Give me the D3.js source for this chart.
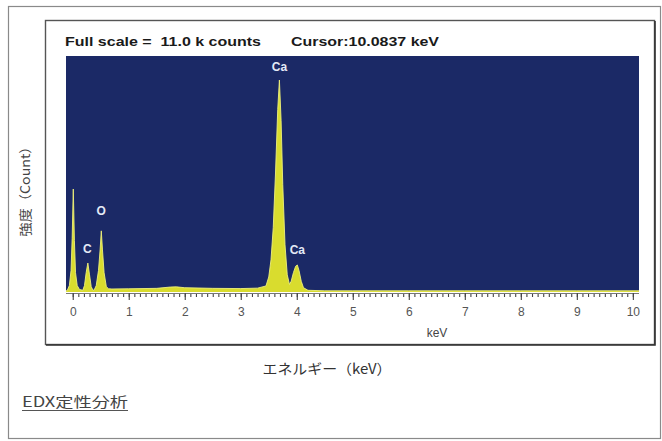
<!DOCTYPE html>
<html><head><meta charset="utf-8">
<script src="https://cdn.jsdelivr.net/npm/d3@7"></script>
<style>
html,body{margin:0;padding:0;background:#fff;}
svg{display:block;}
</style></head>
<body>
<svg id="c" width="662" height="441"></svg>
<script>
// ---- data ----
const spectrumKeV = [-0.12,-0.10,-0.06,-0.03,-0.01,0.01,0.03,0.05,0.08,0.12,0.18,0.21,0.24,0.27,0.30,0.33,0.36,0.38,0.42,0.46,0.49,0.51,0.53,0.56,0.60,0.64,0.70,1.00,1.50,1.74,1.85,2.00,2.50,3.00,3.30,3.45,3.50,3.54,3.58,3.62,3.66,3.69,3.72,3.75,3.79,3.83,3.87,3.90,3.94,3.98,4.01,4.04,4.08,4.12,4.20,4.50,5.00,6.00,7.00,8.00,9.00,10.11];
const spectrumCounts = [0,0,300,1000,2500,4800,2400,900,300,120,80,300,900,1350,800,250,90,80,300,1000,2000,2850,2000,900,250,150,140,150,170,230,240,200,170,160,180,280,700,1500,3000,5500,8500,9880,8000,5000,2200,800,350,500,900,1200,1260,1000,500,200,80,50,40,35,30,30,25,20];
const peakLabels = ["C","O","Ca","Ca"];
const peakLabelKeV = [0.26,0.51,3.69,4.01];
const peakLabelCounts = [1800,3600,10300,1750];
const majorTicks = [0,1,2,3,4,5,6,7,8,9,10];
const minorTicks = d3.range(0,101).map(i=>i/10);
const headerLeft = "Full scale = \u00a011.0 k counts";
const headerRight = "Cursor:10.0837 keV";
const yTitle = "強度（Count）";
const xTitle = "エネルギー（keV）";
const axisUnit = "keV";
const caption = "EDX定性分析";

const svg = d3.select("#c");
// outer frame
svg.append("rect").attr("x",8.5).attr("y",6.5).attr("width",652).attr("height",432)
  .attr("fill","none").attr("stroke","#8a8a8a").attr("stroke-width",1.2);
// inner frame
svg.append("rect").attr("x",45.5).attr("y",20.5).attr("width",609).attr("height",324)
  .attr("fill","none").attr("stroke","#555").attr("stroke-width",1.4);
svg.append("path").attr("d","M655,21 V345 H46").attr("fill","none").attr("stroke","#333").attr("stroke-width",1.6);

const x = d3.scaleLinear().domain([-0.12,10.11]).range([66,639]);
const y = d3.scaleLinear().domain([0,11000]).range([292,56]);

// plot background
svg.append("rect").attr("x",x(-0.12)).attr("y",y(11000)).attr("width",x(10.11)-x(-0.12)).attr("height",y(0)-y(11000))
  .attr("fill","#1b2966");

const pts = spectrumKeV.map((k,i)=>[k,spectrumCounts[i]]);
const area = d3.area().x(d=>x(d[0])).y0(y(0)).y1(d=>Math.min(y(0)-1.2,y(d[1])));
svg.append("path").datum(pts).attr("d",area).attr("fill","#d9dc2e");
const line = d3.line().x(d=>x(d[0])).y(d=>Math.min(y(0)-1.2,y(d[1])));
svg.append("path").datum(pts).attr("d",line).attr("fill","none").attr("stroke","#eef07a").attr("stroke-width",0.9);

// peak labels
svg.selectAll("text.pl").data(peakLabels).join("text").attr("class","pl")
  .attr("x",(d,i)=>x(peakLabelKeV[i])).attr("y",(d,i)=>y(peakLabelCounts[i]))
  .attr("text-anchor","middle").attr("font-family","Liberation Sans, Arial, sans-serif")
  .attr("font-weight","bold").attr("font-size",12).attr("fill","#e4eaf6").text(d=>d);

// axes
const gMinor = svg.append("g").attr("transform",`translate(0,${y(0)+1})`)
  .call(d3.axisBottom(x).tickValues(minorTicks).tickSize(4).tickFormat(""));
const gMajor = svg.append("g").attr("transform",`translate(0,${y(0)+1})`)
  .call(d3.axisBottom(x).tickValues(majorTicks).tickSize(7).tickPadding(7).tickFormat(d3.format("d")));
[gMinor,gMajor].forEach(g=>{
  g.select(".domain").attr("stroke","#777").attr("d",`M${x(-0.12)},0.5H${x(10.11)}`);
  g.selectAll(".tick line").attr("stroke","#444").attr("stroke-width",1.1);
});
gMajor.selectAll(".tick text").attr("font-family","Liberation Sans Narrow, Liberation Sans, Arial, sans-serif")
  .attr("font-size",12).attr("fill","#555");

// texts
svg.append("text").attr("x",65).attr("y",46).attr("font-family","Liberation Sans, Arial, sans-serif")
  .attr("font-weight","bold").attr("font-size",13).attr("fill","#1a1a1a")
  .attr("textLength",196).attr("lengthAdjust","spacingAndGlyphs").text(headerLeft);
svg.append("text").attr("x",291).attr("y",46).attr("font-family","Liberation Sans, Arial, sans-serif")
  .attr("font-weight","bold").attr("font-size",13).attr("fill","#1a1a1a")
  .attr("textLength",148).attr("lengthAdjust","spacingAndGlyphs").text(headerRight);
svg.append("text").attr("x",437).attr("y",337).attr("text-anchor","middle")
  .attr("font-family","Liberation Sans, Arial, sans-serif").attr("font-size",12).attr("fill","#444").text(axisUnit);
svg.append("text").attr("transform","translate(30,188) rotate(-90)").attr("text-anchor","middle")
  .attr("font-family","Noto Sans CJK JP, sans-serif").attr("font-size",13).attr("fill","#444")
  .attr("textLength",97).attr("lengthAdjust","spacingAndGlyphs").text(yTitle);
svg.append("text").attr("x",327).attr("y",374).attr("text-anchor","middle")
  .attr("font-family","Noto Sans CJK JP, sans-serif").attr("font-size",14).attr("fill","#333")
  .attr("textLength",129).attr("lengthAdjust","spacingAndGlyphs").text(xTitle);
svg.append("text").attr("x",22).attr("y",407)
  .attr("font-family","Noto Sans CJK JP, sans-serif").attr("font-size",14).attr("fill","#444")
  .attr("textLength",106).attr("lengthAdjust","spacingAndGlyphs").text(caption);
svg.append("line").attr("x1",22).attr("x2",128).attr("y1",410.5).attr("y2",410.5).attr("stroke","#555").attr("stroke-width",1);
</script>
</body></html>
